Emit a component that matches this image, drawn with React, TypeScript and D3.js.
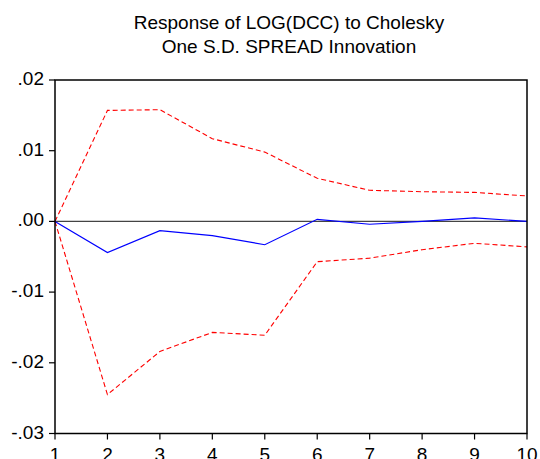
import React from "react";
import * as d3 from "d3";

const periods = [1, 2, 3, 4, 5, 6, 7, 8, 9, 10];
const response = [0, -0.0044, -0.0013, -0.002, -0.0033, 0.0003, -0.0004, 0.0, 0.0005, 0.0];
const upperBand = [0, 0.0157, 0.0158, 0.0117, 0.0098, 0.0061, 0.0044, 0.0042, 0.0041, 0.0036];
const lowerBand = [0, -0.0245, -0.0184, -0.0157, -0.0161, -0.0057, -0.0052, -0.004, -0.0031, -0.0036];
const yTicks = [0.02, 0.01, 0.0, -0.01, -0.02, -0.03];
const yTickLabels = [".02", ".01", ".00", "-.01", "-.02", "-.03"];
const titleLines = ["Response of LOG(DCC) to Cholesky", "One S.D. SPREAD Innovation"];

export default function App() {
  const W = 540, H = 459;
  const left = 55, right = 527, top = 80, bottom = 433.5;
  const x = d3.scaleLinear().domain([1, 10]).range([left, right]);
  const y = d3.scaleLinear().domain([-0.03, 0.02]).range([bottom, top]);
  const line = d3.line<number>().x((_, i) => x(periods[i])).y((d) => y(d));
  const font = "'Liberation Sans', Arial, sans-serif";
  return (
    <svg width={W} height={H} style={{ position: "absolute", left: 0, top: 0, background: "#fff" }}>
      <rect x={0} y={0} width={W} height={H} fill="#fff" />
      {titleLines.map((t, i) => (
        <text key={i} x={289} y={29 + i * 24} textAnchor="middle" fontFamily={font} fontSize={19} fill="#000">
          {t}
        </text>
      ))}
      <line x1={left} x2={right} y1={y(0)} y2={y(0)} stroke="#444" strokeWidth={1.2} />
      <path d={line(upperBand) || ""} fill="none" stroke="#ff0000" strokeWidth={1.1} strokeDasharray="5,3" />
      <path d={line(lowerBand) || ""} fill="none" stroke="#ff0000" strokeWidth={1.1} strokeDasharray="5,3" />
      <path d={line(response) || ""} fill="none" stroke="#0000ff" strokeWidth={1.2} />
      <rect x={left} y={top} width={right - left} height={bottom - top} fill="none" stroke="#000" strokeWidth={1.5} />
      {yTicks.map((t, i) => (
        <g key={i}>
          <line x1={left - 6} x2={left} y1={y(t)} y2={y(t)} stroke="#000" strokeWidth={1.2} />
          <text x={44} y={y(t) + 5} textAnchor="end" fontFamily={font} fontSize={19} fill="#000">
            {yTickLabels[i]}
          </text>
        </g>
      ))}
      {periods.map((p) => (
        <g key={p}>
          <line x1={x(p)} x2={x(p)} y1={bottom} y2={bottom + 6} stroke="#000" strokeWidth={1.2} />
          <text x={x(p)} y={460.5} textAnchor="middle" fontFamily={font} fontSize={19} fill="#000">
            {p}
          </text>
        </g>
      ))}
    </svg>
  );
}
